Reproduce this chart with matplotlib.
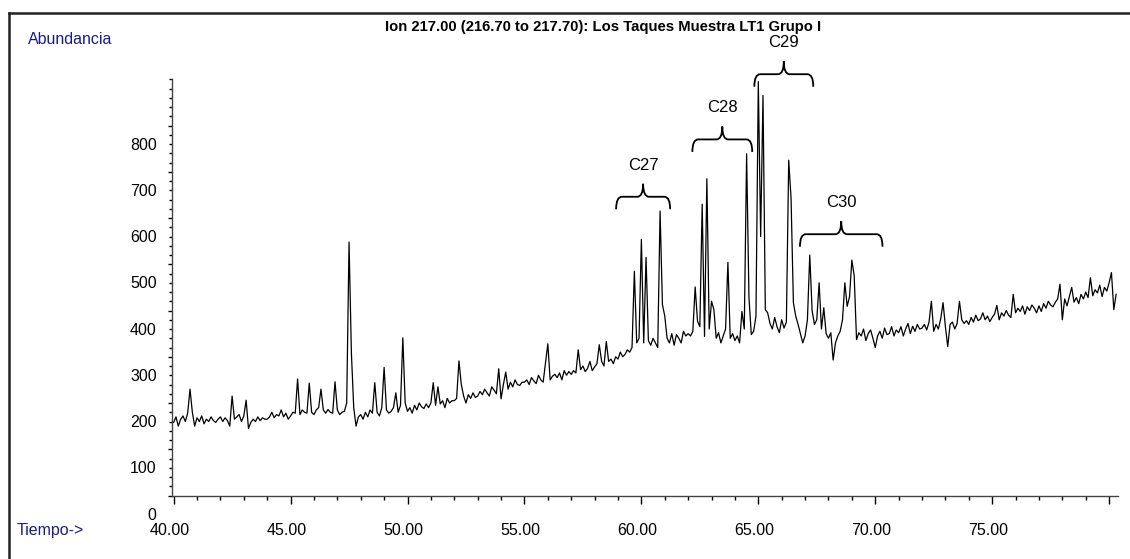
import numpy as np
import matplotlib.pyplot as plt
from matplotlib.lines import Line2D
from matplotlib.path import Path
from matplotlib.patches import PathPatch
from matplotlib.ticker import MultipleLocator
from matplotlib.transforms import ScaledTranslation

plt.rcParams['font.family'] = ['Liberation Sans', 'DejaVu Sans']

# ion 217 trace, one reading every 0.1 min starting at 40.0 min (one row per minute)
T_START = 40.0
T_STEP = 0.1
abundance = [
    158, 170, 150, 165, 172, 160, 178, 230, 180, 150,  # 40
    168, 160, 172, 155, 165, 160, 170, 162, 158, 165,  # 41
    170, 160, 168, 162, 150, 215, 165, 170, 175, 160,  # 42
    172, 206, 145, 158, 165, 160, 170, 162, 168, 165,  # 43
    165, 170, 180, 168, 175, 172, 185, 170, 178, 165,  # 44
    172, 180, 178, 252, 175, 185, 180, 178, 243, 180,  # 45
    175, 185, 190, 230, 185, 178, 186, 180, 178, 246,  # 46
    185, 175, 180, 182, 200, 548, 309, 190, 150, 170,  # 47
    175, 165, 180, 170, 185, 178, 244, 180, 172, 190,  # 48
    277, 185, 178, 182, 190, 222, 180, 195, 341, 200,  # 49
    182, 190, 178, 195, 185, 200, 192, 188, 198, 190,  # 50
    200, 244, 195, 235, 198, 205, 190, 210, 200, 205,  # 51
    205, 210, 291, 240, 215, 200, 218, 210, 222, 212,  # 52
    215, 225, 218, 230, 222, 215, 235, 228, 220, 274,  # 53
    209, 240, 267, 230, 245, 235, 250, 240, 238, 245,  # 54
    245, 250, 240, 255, 248, 242, 260, 250, 245, 287,  # 55
    328, 250, 258, 262, 255, 265, 250, 270, 260, 268,  # 56
    262, 270, 265, 315, 272, 280, 268, 275, 290, 270,  # 57
    278, 285, 326, 290, 280, 333, 290, 295, 285, 300,  # 58
    295, 310, 300, 305, 315, 310, 320, 485, 330, 340,  # 59
    554, 330, 515, 335, 325, 340, 330, 320, 615, 413,  # 60
    388, 340, 330, 350, 325, 348, 340, 330, 355, 345,  # 61
    350, 345, 355, 451, 377, 365, 630, 344, 685, 360,  # 62
    420, 402, 340, 352, 330, 345, 360, 504, 340, 350,  # 63
    335, 345, 330, 398, 360, 739, 428, 348, 355, 388,  # 64
    895, 560, 865, 402, 395, 372, 360, 385, 365, 352,  # 65
    380, 362, 375, 725, 643, 417, 388, 370, 350, 330,  # 66
    345, 380, 520, 400, 370, 380, 460, 360, 406, 350,  # 67
    340, 352, 293, 330, 345, 355, 380, 460, 409, 430,  # 68
    509, 475, 337, 352, 345, 360, 335, 350, 358, 340,  # 69
    320, 345, 355, 340, 362, 348, 350, 365, 345, 358,  # 70
    352, 365, 345, 360, 372, 350, 366, 355, 370, 360,  # 71
    362, 370, 358, 375, 420, 355, 370, 360, 382, 417,  # 72
    365, 322, 370, 375, 360, 372, 420, 380, 372, 378,  # 73
    370, 385, 375, 390, 378, 382, 395, 380, 388, 376,  # 74
    385, 392, 411, 380, 395, 388, 400, 390, 385, 435,  # 75
    395, 405, 398, 410, 392, 408, 400, 412, 405, 395,  # 76
    410, 398, 415, 405, 420, 412, 408, 418, 425, 457,  # 77
    380, 425, 410, 430, 450, 418, 428, 415, 435, 425,  # 78
    440, 428, 471, 432, 445, 438, 455, 430, 450, 442,  # 79
    460, 482, 402, 435,                                # 80
]

# sterane groups: name, start (min), end (min), height of the brace bar
groups = ['C27', 'C28', 'C29', 'C30']
group_start = [58.92, 62.18, 64.83, 66.78]
group_end = [61.23, 64.74, 67.35, 70.31]
group_level = [646, 770, 911, 565]

x_ticks = [40, 45, 50, 55, 60, 65, 70, 75, 80]
x_labels = ['40.00', '45.00', '50.00', '55.00', '60.00', '65.00', '70.00', '75.00', '']
y_ticks = [0, 100, 200, 300, 400, 500, 600, 700, 800]

TITLE = 'Ion 217.00 (216.70 to 217.70): Los Taques Muestra LT1 Grupo I'
BLUE = '#1a1a8c'
W, H = 1130, 559


def draw_brace(ax, x0, x1, y, r=0.25, tip=28, drop=27):
    xm = (x0 + x1) / 2
    verts = [(x0, y - drop), (x0, y), (x0 + r, y),
             (xm - r, y), (xm, y), (xm, y + tip),
             (xm, y), (xm + r, y),
             (x1 - r, y), (x1, y), (x1, y - drop)]
    codes = [Path.MOVETO, Path.CURVE3, Path.CURVE3,
             Path.LINETO, Path.CURVE3, Path.CURVE3,
             Path.CURVE3, Path.CURVE3,
             Path.LINETO, Path.CURVE3, Path.CURVE3]
    ax.add_patch(PathPatch(Path(verts, codes), fill=False, lw=1.3,
                           edgecolor='black', clip_on=False))


fig = plt.figure(figsize=(W / 100, H / 100), dpi=100)
ax = fig.add_axes([172 / W, 1 - 495.5 / H, (1118 - 172) / W, (495.5 - 79.3) / H])

t = T_START + T_STEP * np.arange(len(abundance))
ax.plot(t, abundance, color='black', lw=0.9)

ax.set_xlim(39.93, 80.38)
ax.set_ylim(0, 900)

for side in ('top', 'right'):
    ax.spines[side].set_visible(False)
for side in ('left', 'bottom'):
    ax.spines[side].set_color('#444444')
    ax.spines[side].set_linewidth(1.0)

ax.set_xticks(x_ticks)
ax.set_xticklabels(x_labels)
ax.xaxis.set_minor_locator(MultipleLocator(1))
ax.set_yticks(y_ticks)
ax.set_yticklabels([str(v) for v in y_ticks])
ax.yaxis.set_minor_locator(MultipleLocator(20))

ax.tick_params(axis='x', which='major', direction='out', length=6, width=1,
               pad=14, labelsize=11.5)
ax.tick_params(axis='x', which='minor', direction='out', length=3, width=1)
ax.tick_params(axis='y', which='major', direction='out', length=3, width=1,
               pad=8, labelsize=11.5)
ax.tick_params(axis='y', which='minor', direction='out', length=2, width=1)

# the labels sit a little below / left of their ticks
shift_y = ScaledTranslation(0, -0.18, fig.dpi_scale_trans)
for lab in ax.get_yticklabels():
    lab.set_transform(lab.get_transform() + shift_y)
shift_x = ScaledTranslation(-0.04, 0, fig.dpi_scale_trans)
for lab in ax.get_xticklabels():
    lab.set_transform(lab.get_transform() + shift_x)

for name, x0, x1, y in zip(groups, group_start, group_end, group_level):
    draw_brace(ax, x0, x1, y)
    ax.text((x0 + x1) / 2, y + 68, name, ha='center', va='center',
            fontsize=12, clip_on=False)

fig.text(603 / W, 1 - 27 / H, TITLE, ha='center', va='center',
         fontsize=10.75, fontweight='bold')
fig.text(28 / W, 1 - 39 / H, 'Abundancia', ha='left', va='center',
         fontsize=11.5, color=BLUE)
fig.text(17 / W, 1 - 530 / H, 'Tiempo->', ha='left', va='center',
         fontsize=11.5, color=BLUE)

# page frame: left and top edges only, the rest runs off the page
frame_x = 8.5 / W
frame_y = 1 - 12.5 / H
fig.add_artist(Line2D([frame_x, frame_x], [-0.05, frame_y], transform=fig.transFigure,
                      color='#222222', lw=1.8, solid_capstyle='projecting'))
fig.add_artist(Line2D([frame_x, 1.05], [frame_y, frame_y], transform=fig.transFigure,
                      color='#222222', lw=1.8, solid_capstyle='projecting'))

fig.savefig('out.png', dpi=100)
